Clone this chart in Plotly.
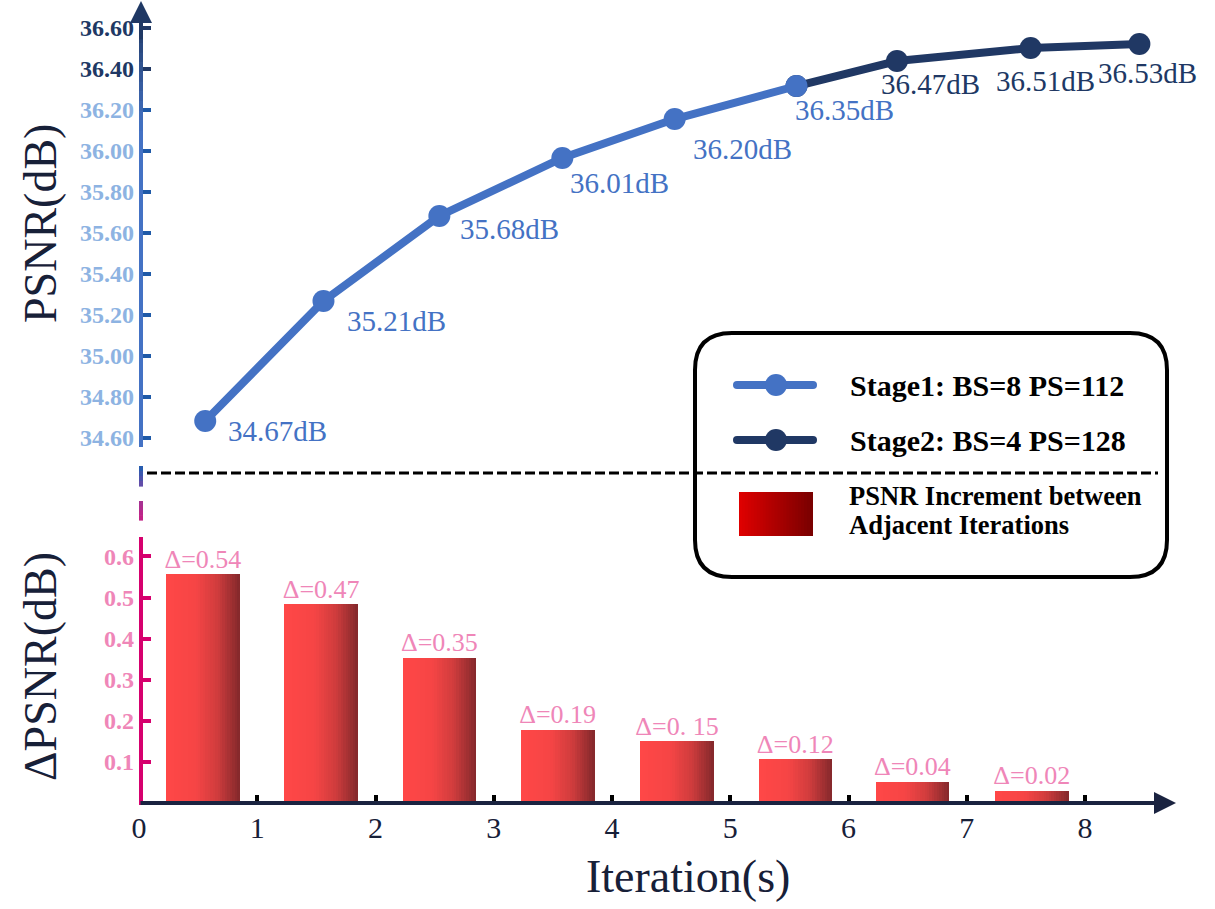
import plotly.graph_objects as go

# ---- data ----
psnr_x = [0.56, 1.56, 2.54, 3.58, 4.53, 5.56, 6.41, 7.54, 8.46]
psnr_y = [34.683, 35.268, 35.683, 35.966, 36.156, 36.317, 36.439, 36.502, 36.522]
psnr_text = ["34.67dB", "35.21dB", "35.68dB", "36.01dB", "36.20dB",
             "36.35dB", "36.47dB", "36.51dB", "36.53dB"]
stage1_end = 6   # points 1..6 are stage 1, 6..9 stage 2

bar_x = [0.54, 1.54, 2.54, 3.54, 4.55, 5.55, 6.54, 7.55]
delta_h = [0.556, 0.483, 0.354, 0.178, 0.150, 0.106, 0.052, 0.030]
delta_text = ["Δ=0.54", "Δ=0.47", "Δ=0.35", "Δ=0.19", "Δ=0. 15",
              "Δ=0.12", "Δ=0.04", "Δ=0.02"]

top_ticks = [34.6, 34.8, 35.0, 35.2, 35.4, 35.6, 35.8, 36.0, 36.2]
top_ticks_dark = [36.4, 36.6]
bot_ticks = [0.1, 0.2, 0.3, 0.4, 0.5, 0.6]
x_ticks = [0, 1, 2, 3, 4, 5, 6, 7, 8]

legend_names = ["Stage1: BS=8 PS=112", "Stage2: BS=4 PS=128"]
legend_bar = ["PSNR Increment between", "Adjacent Iterations"]

# ---- styling ----
FONT = "Liberation Serif"
BLUE = "#4472c4"
NAVY = "#203864"
MAGENTA = "#d6006e"
PINK = "#ef86b8"
LIGHTBLUE = "#8db3e2"
DARK = "#172038"

W, H = 1215, 909
L, R, T, B = 139, 35, 0, 106
PW, PH = W - L - R, H - T - B
XSCALE = 118.25  # px per iteration


def px(x):
    return (x - L) / PW


def py(y):
    return (PH - y) / PH


def hex2rgb(h):
    h = h.lstrip("#")
    return [int(h[i:i + 2], 16) for i in (0, 2, 4)]


def interp(stops, t):
    for (t0, c0), (t1, c1) in zip(stops[:-1], stops[1:]):
        if t0 <= t <= t1:
            f = (t - t0) / (t1 - t0) if t1 > t0 else 0
            a, b = hex2rgb(c0), hex2rgb(c1)
            return "rgb(%d,%d,%d)" % tuple(round(a[i] + (b[i] - a[i]) * f) for i in range(3))
    return stops[-1][1]


fig = go.Figure()

# gradient bars, built from thin slices
bw = 0.62
N = 30
bar_stops = [(0, "#ff4747"), (0.4, "#f64545"), (0.7, "#cf3c3d"), (1.0, "#83282b")]
for k in range(N):
    fig.add_trace(go.Bar(
        x=bar_x, y=delta_h, width=bw / N * 1.15, offset=-bw / 2 + k * bw / N,
        marker=dict(color=interp(bar_stops, (k + 0.5) / N), line=dict(width=0)),
        yaxis="y2", showlegend=False, hoverinfo="skip"))

fig.add_trace(go.Scatter(
    x=bar_x, y=delta_h, mode="text", text=delta_text, textposition="top center",
    textfont=dict(family=FONT, size=26, color=PINK), yaxis="y2",
    showlegend=False, hoverinfo="skip"))

# PSNR line, stage 2 under stage 1
fig.add_trace(go.Scatter(
    x=psnr_x[stage1_end - 1:], y=psnr_y[stage1_end - 1:], mode="lines+markers",
    line=dict(color=NAVY, width=8), marker=dict(size=22, color=NAVY),
    showlegend=False))
fig.add_trace(go.Scatter(
    x=psnr_x[:stage1_end], y=psnr_y[:stage1_end], mode="lines+markers",
    line=dict(color=BLUE, width=8), marker=dict(size=22, color=BLUE),
    showlegend=False))
# invisible trace so the overlaid dark tick axis gets drawn
fig.add_trace(go.Scatter(x=psnr_x[-1:], y=psnr_y[-1:], yaxis="y3", mode="markers",
                         marker=dict(opacity=0), showlegend=False, hoverinfo="skip"))

# point labels
label_off = [(72, 10), (73, 20), (70, 13), (57, 25), (68, 30), (48, 24), (34, 23), (15, 33), (8, 29)]
for i, (xv, yv, t) in enumerate(zip(psnr_x, psnr_y, psnr_text)):
    fig.add_annotation(x=xv, y=yv, xref="x", yref="y", text=t, showarrow=False,
                       xanchor="center", yanchor="middle",
                       xshift=label_off[i][0], yshift=-label_off[i][1],
                       font=dict(family=FONT, size=29, color=BLUE if i < stage1_end else NAVY))

# axes
top_lo = 34.6 - (460 - 438) / 205.0
top_hi = 36.6 + 28 / 205.0
tick_font_top = dict(family=FONT, size=24, color=LIGHTBLUE, weight="bold")
fig.update_layout(
    width=W, height=H, template="none",
    margin=dict(l=L, r=R, t=T, b=B, autoexpand=False),
    plot_bgcolor="white", paper_bgcolor="white",
    barmode="overlay", bargap=0,
    xaxis=dict(range=[0, PW / XSCALE], anchor="y2", tickvals=x_ticks,
               ticks="inside", ticklen=8, tickwidth=4, tickcolor="black",
               showline=False, showgrid=False, zeroline=False, automargin=False,
               tickfont=dict(family=FONT, size=30, color=DARK), ticklabelstandoff=4),
    yaxis=dict(domain=[py(460), 1], range=[top_lo, top_hi], anchor="x",
               tickvals=top_ticks, tickformat=".2f",
               ticks="inside", ticklen=12, tickwidth=4, tickcolor="#1f5aa8",
               showline=False, showgrid=False, zeroline=False, automargin=False,
               tickfont=tick_font_top, ticklabelstandoff=4),
    yaxis3=dict(overlaying="y", range=[top_lo, top_hi], side="left", anchor="x",
                tickvals=top_ticks_dark, tickformat=".2f",
                ticks="inside", ticklen=12, tickwidth=4, tickcolor=NAVY,
                showline=False, showgrid=False, zeroline=False, automargin=False,
                tickfont=dict(tick_font_top, color=NAVY), ticklabelstandoff=4),
    yaxis2=dict(domain=[0, py(540)], range=[0, 263 / 411.0], anchor="x",
                tickvals=bot_ticks, tickformat=".1f",
                ticks="inside", ticklen=12, tickwidth=4, tickcolor=MAGENTA,
                showline=False, showgrid=False, zeroline=False, automargin=False,
                tickfont=dict(family=FONT, size=24, color=PINK, weight="bold"),
                ticklabelstandoff=4),
)

shapes = []


def seg(x0, y0, x1, y1, color, width=4, dash=None):
    shapes.append(dict(type="line", xref="paper", yref="paper",
                       x0=px(x0), y0=py(y0), x1=px(x1), y1=py(y1),
                       line=dict(color=color, width=width, dash=dash)))


def grad_vseg(x, y_top, y_bot, c_top, c_bot, n=12):
    for k in range(n):
        ya = y_top + (y_bot - y_top) * k / n
        yb = y_top + (y_bot - y_top) * (k + 1) / n + 0.6
        seg(x, ya, x, yb, interp([(0, c_top), (1, c_bot)], (k + 0.5) / n))


# y axis lines
seg(141, 447, 141, 130, BLUE)
grad_vseg(141, 14, 130, "#1f3864", BLUE)
grad_vseg(141, 466, 486, "#1f5fb0", "#6a4aa8", n=4)
grad_vseg(141, 501, 520, "#a23494", "#c81f84", n=4)
seg(141, 537, 141, 805, MAGENTA)

# dashed separator
seg(147, 473, 1158, 473, "black", width=3, dash="10px,4px")

# legend box with rounded corners
bx0, bx1, by0, by1, rad = 695, 1167, 333, 577, 37
rx, ry = rad / PW, rad / PH
X0, X1, Y0, Y1 = px(bx0), px(bx1), py(by1), py(by0)
path = (f"M {X0 + rx},{Y1} L {X1 - rx},{Y1} Q {X1},{Y1} {X1},{Y1 - ry} "
        f"L {X1},{Y0 + ry} Q {X1},{Y0} {X1 - rx},{Y0} L {X0 + rx},{Y0} "
        f"Q {X0},{Y0} {X0},{Y0 + ry} L {X0},{Y1 - ry} Q {X0},{Y1} {X0 + rx},{Y1} Z")
shapes.append(dict(type="path", xref="paper", yref="paper", path=path,
                   line=dict(color="black", width=4)))

# legend line samples (round ends via small circles)
for yy, col in [(385, BLUE), (440, NAVY)]:
    seg(737, yy, 813, yy, col, width=8)
    for cx, r in [(737, 4), (813, 4), (776, 11)]:
        shapes.append(dict(type="circle", xref="paper", yref="paper",
                           xsizemode="pixel", ysizemode="pixel",
                           xanchor=px(cx), yanchor=py(yy), x0=-r, x1=r, y0=-r, y1=r,
                           fillcolor=col, line=dict(width=0)))

# legend gradient swatch
ns = 25
for k in range(ns):
    xa = 739 + (813 - 739) * k / ns
    xb = min(813, 739 + (813 - 739) * (k + 1) / ns + 2)
    shapes.append(dict(type="rect", xref="paper", yref="paper",
                       x0=px(xa), x1=px(xb), y0=py(536), y1=py(492),
                       fillcolor=interp([(0, "#e00000"), (1, "#780000")], (k + 0.5) / ns),
                       line=dict(width=0, color="rgba(0,0,0,0)")))

fig.update_layout(shapes=shapes)

# arrows for axes
fig.add_annotation(x=px(1176), y=py(803), xref="paper", yref="paper", text="",
                   showarrow=True, ax=139 - 1176, ay=0, arrowhead=2, arrowsize=1.1,
                   arrowwidth=4, arrowcolor="#1a2340", standoff=0)
fig.add_annotation(x=px(141), y=py(1), xref="paper", yref="paper", text="",
                   showarrow=True, ax=0, ay=40, arrowhead=2, arrowsize=1.1,
                   arrowwidth=4, arrowcolor="#1f3864", standoff=0)

# legend texts
for yy, t in zip([385, 440], legend_names):
    fig.add_annotation(x=px(848), y=py(yy), xref="paper", yref="paper", text=t,
                       showarrow=False, xanchor="left", yanchor="middle",
                       font=dict(family=FONT, size=30, color="black", weight="bold"))
for yy, t in zip([496, 525], legend_bar):
    fig.add_annotation(x=px(847), y=py(yy), xref="paper", yref="paper", text=t,
                       showarrow=False, xanchor="left", yanchor="middle",
                       font=dict(family=FONT, size=26.5, color="black", weight="bold"))

# axis titles
title_font = dict(family=FONT, size=46, color=DARK)
fig.add_annotation(x=px(40), y=py(224), xref="paper", yref="paper", text="PSNR(dB)",
                   showarrow=False, textangle=-90, xanchor="center", yanchor="middle",
                   font=title_font)
fig.add_annotation(x=px(40), y=py(667), xref="paper", yref="paper", text="ΔPSNR(dB)",
                   showarrow=False, textangle=-90, xanchor="center", yanchor="middle",
                   font=title_font)
fig.add_annotation(x=px(688), y=py(877), xref="paper", yref="paper", text="Iteration(s)",
                   showarrow=False, xanchor="center", yanchor="middle",
                   font=title_font)

# page body has a default margin; drop it so the figure sits at the window corner
fig.write_html("out.html", config={"displayModeBar": False},
               post_script="document.body.style.margin='0';")
